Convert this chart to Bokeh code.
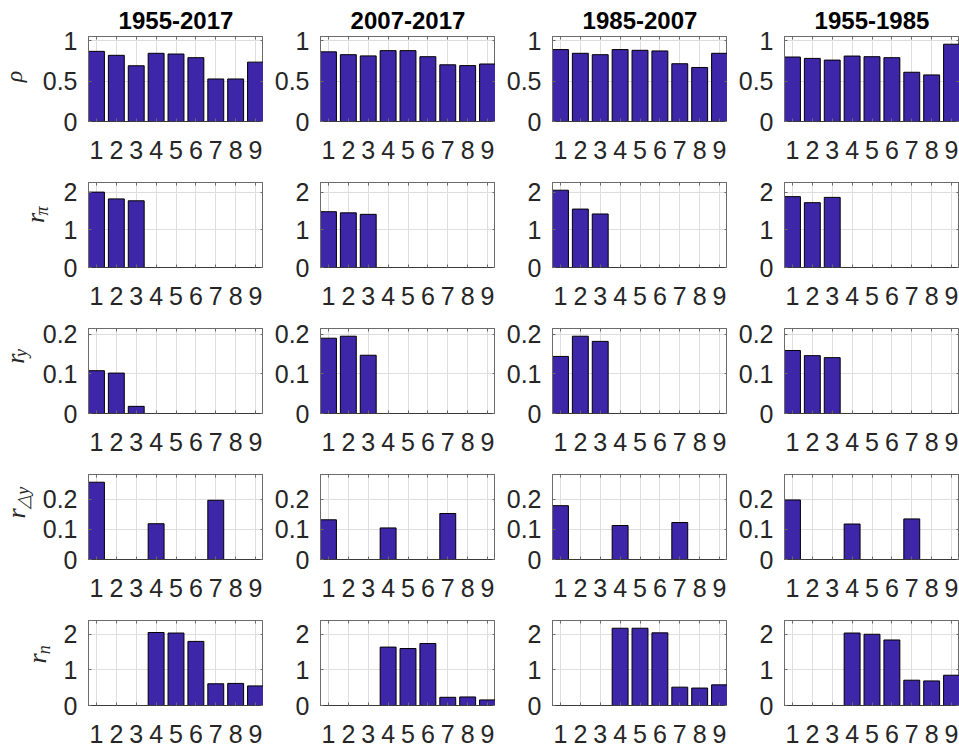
import math
from bokeh.plotting import figure
from bokeh.layouts import column, row
from bokeh.models import Range1d, FixedTicker, LinearAxis, NumeralTickFormatter
from bokeh.core.properties import value
from bokeh.embed import file_html
from bokeh.resources import INLINE

# Estimation periods (columns) and regime/state index (x axis)
periods = ["1955-2017", "2007-2017", "1985-2007", "1955-1985"]
states = [1, 2, 3, 4, 5, 6, 7, 8, 9]

# Parameter estimates per period, one list per period in the order of `periods`
rho = [
    [0.866, 0.817, 0.688, 0.842, 0.833, 0.788, 0.525, 0.525, 0.733],
    [0.860, 0.825, 0.810, 0.875, 0.875, 0.800, 0.700, 0.690, 0.710],
    [0.888, 0.842, 0.825, 0.888, 0.879, 0.871, 0.713, 0.667, 0.842],
    [0.796, 0.779, 0.758, 0.808, 0.800, 0.788, 0.608, 0.575, 0.954],
]
r_pi = [
    [2.00, 1.82, 1.77, 0, 0, 0, 0, 0, 0],
    [1.48, 1.45, 1.41, 0, 0, 0, 0, 0, 0],
    [2.05, 1.55, 1.42, 0, 0, 0, 0, 0, 0],
    [1.88, 1.72, 1.86, 0, 0, 0, 0, 0, 0],
]
r_y = [
    [0.108, 0.102, 0.018, 0, 0, 0, 0, 0, 0],
    [0.190, 0.195, 0.147, 0, 0, 0, 0, 0, 0],
    [0.144, 0.195, 0.182, 0, 0, 0, 0, 0, 0],
    [0.159, 0.146, 0.141, 0, 0, 0, 0, 0, 0],
]
r_dy = [
    [0.257, 0, 0, 0.119, 0, 0, 0.197, 0, 0],
    [0.132, 0, 0, 0.105, 0, 0, 0.153, 0, 0],
    [0.179, 0, 0, 0.113, 0, 0, 0.123, 0, 0],
    [0.198, 0, 0, 0.118, 0, 0, 0.135, 0, 0],
]
r_n = [
    [0, 0, 0, 2.050, 2.035, 1.800, 0.610, 0.620, 0.550],
    [0, 0, 0, 1.640, 1.600, 1.740, 0.230, 0.240, 0.157],
    [0, 0, 0, 2.170, 2.170, 2.040, 0.515, 0.490, 0.580],
    [0, 0, 0, 2.035, 2.000, 1.840, 0.710, 0.690, 0.850],
]

params = [rho, r_pi, r_y, r_dy, r_n]
y_ticks = [[0, 0.5, 1], [0, 1, 2], [0, 0.1, 0.2], [0, 0.1, 0.2], [0, 1, 2]]
# y-axis symbols: (main, subscript)
symbols = [("ρ", ""), ("r", "π"), ("r", "y"), ("r", "△y"), ("r", "n")]

BAR = "#3E26A8"
AX = "#6b6b6b"
AXB = "#3a3a3a"
GRID = "#dedede"
TXT = "#262626"
FONT = "Liberation Sans"
SERIF = "Liberation Serif"

FW, FH = 175, 85            # plot frame size in px
LEFT0, LEFT = 88, 57        # space left of the frame (first column / others)
TOP0, PITCH = 36, 146       # first frame top, vertical pitch of rows
TOPN = 12                   # top border of the lower rows
TOTAL_H = 751
X0, X1 = 0.6, 9.4

# Symbol strip left of each row. Placement of the symbol pieces, given as
# (x of the text middle line, y of the text centre relative to the frame top)
# for the main letter and for its subscript.
sym_strip = [30, 56, 32, 38, 56]
main_size = ["24px", "26px", "26px", "26px", "26px"]
sub_size = "18px"
main_pos = [(13.9, 44), (34.7, 49), (14.7, 40), (15.7, 55), (36.7, 52)]
sub_pos = [None, (41.9, 37), (20.9, 30), (22.4, 28), (43.9, 37)]


def blank_axis(ticks):
    ax = LinearAxis(ticker=FixedTicker(ticks=ticks))
    ax.major_label_overrides = {t: "" for t in ticks}
    ax.major_label_standoff = 0
    ax.major_tick_in = 3
    ax.major_tick_out = 0
    ax.minor_tick_line_color = None
    ax.axis_line_color = AX
    ax.major_tick_line_color = AX
    return ax


def symbol_text(fig, x, y, text, size):
    fig.text(x=[x], y=[y], text=[text], angle=math.pi / 2,
             text_align="center", text_baseline="middle",
             text_font=value(SERIF), text_font_style="italic",
             text_font_size=size, text_color=TXT)


rows = []
for ri, data in enumerate(params):
    ymax = 1.1 * max(max(v) for v in data)
    top = TOP0 if ri == 0 else TOPN
    fig_top = 0 if ri == 0 else TOP0 + PITCH * ri - TOPN
    next_top = TOTAL_H if ri == len(params) - 1 else TOP0 + PITCH * (ri + 1) - TOPN
    height = next_top - fig_top
    bottom = height - top - FH

    # narrow strip carrying the y symbol of this row (pixel coordinates)
    sw = sym_strip[ri]
    s = figure(width=sw, height=height, x_range=Range1d(0, sw),
               y_range=Range1d(height, 0), output_backend="svg",
               toolbar_location=None, x_axis_location=None,
               y_axis_location=None, min_border=0)
    s.title = None
    s.outline_line_color = None
    s.xgrid.visible = False
    s.ygrid.visible = False
    main, sub = symbols[ri]
    mx, my = main_pos[ri]
    symbol_text(s, mx, top + my, main, main_size[ri])
    if sub:
        sx, sy = sub_pos[ri]
        symbol_text(s, sx, top + sy, sub, sub_size)
    figs = [s]

    for ci, period in enumerate(periods):
        left = (LEFT0 - sw) if ci == 0 else LEFT
        p = figure(width=left + FW, height=height,
                   x_range=Range1d(X0, X1), y_range=Range1d(0, ymax),
                   output_backend="svg", toolbar_location=None,
                   min_border_left=left, min_border_right=0,
                   min_border_top=top, min_border_bottom=bottom)
        p.title = None
        p.background_fill_color = "white"
        p.border_fill_color = "white"
        p.outline_line_color = AX
        p.outline_line_alpha = 1.0
        p.outline_line_width = 1

        xt = FixedTicker(ticks=states)
        yt = FixedTicker(ticks=y_ticks[ri])
        p.xaxis.ticker = xt
        p.yaxis.ticker = yt
        p.xgrid.ticker = xt
        p.ygrid.ticker = yt
        p.yaxis.formatter = NumeralTickFormatter(format="0.[0]")
        for g in (p.xgrid, p.ygrid):
            g.grid_line_color = GRID
            g.grid_line_width = 1

        for ax in (p.xaxis, p.yaxis):
            ax.axis_line_color = AX
            ax.major_tick_line_color = AX
            ax.major_tick_in = 3
            ax.major_tick_out = 0
            ax.minor_tick_line_color = None
            ax.major_label_text_font = FONT
            ax.major_label_text_font_size = "25px"
            ax.major_label_text_color = TXT
        p.xaxis.axis_line_color = AXB
        p.xaxis.major_label_standoff = 19
        p.yaxis.major_label_standoff = 11

        # box ticks on the top and right edges; the top one carries the period name
        top_ax = blank_axis(states)
        if ri == 0:
            top_ax.axis_label = period
            top_ax.axis_label_text_font = FONT
            top_ax.axis_label_text_font_size = "24px"
            top_ax.axis_label_text_font_style = "bold"
            top_ax.axis_label_text_color = "black"
            top_ax.axis_label_standoff = 8
        p.add_layout(top_ax, "above")
        p.add_layout(blank_axis(y_ticks[ri]), "right")

        p.vbar(x=states, top=data[ci], width=0.8, bottom=0,
               fill_color=BAR, line_color="black", line_width=1)
        figs.append(p)
    rows.append(row(*figs, spacing=0))

layout = column(*rows, spacing=0)
open("out.html", "w").write(file_html(layout, INLINE))
